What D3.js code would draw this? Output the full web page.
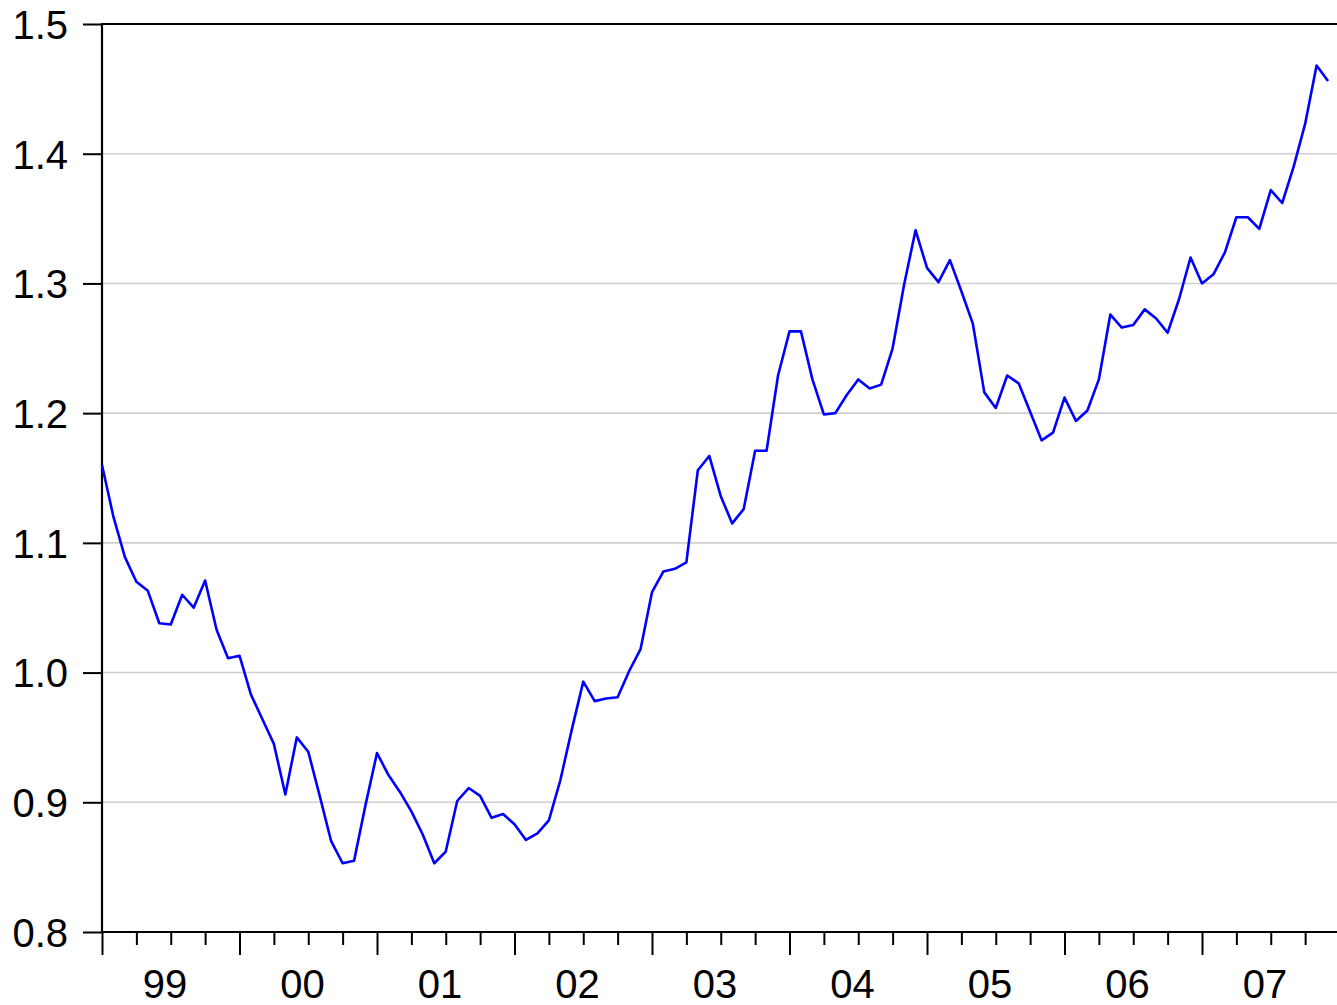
<!DOCTYPE html>
<html lang="en">
	<head>
		<meta charset="utf-8">
		<title>D3: monthly exchange rate line chart</title>
		<script type="text/javascript" src="https://cdn.jsdelivr.net/npm/d3@7/dist/d3.min.js"></script>
		<style type="text/css">
			body {
				margin: 0;
				background: #fff;
			}
			text {
				font-family: "Liberation Sans", Arial, sans-serif;
				fill: #000;
			}
		</style>
	</head>
	<body>
		<script type="text/javascript">

			//Width and height
			var w = 1337;
			var h = 1005;

			//Data: one value per month, Jan 1999 .. Dec 2007
			var years = ["99", "00", "01", "02", "03", "04", "05", "06", "07"];
			var v1999 = [1.160, 1.120, 1.089, 1.070, 1.063, 1.038, 1.037, 1.060, 1.050, 1.071, 1.033, 1.011];
			var v2000 = [1.013, 0.983, 0.964, 0.945, 0.906, 0.950, 0.939, 0.905, 0.870, 0.853, 0.855, 0.898];
			var v2001 = [0.938, 0.921, 0.908, 0.893, 0.875, 0.853, 0.862, 0.901, 0.911, 0.905, 0.888, 0.891];
			var v2002 = [0.883, 0.871, 0.876, 0.886, 0.917, 0.956, 0.993, 0.978, 0.980, 0.981, 1.001, 1.018];
			var v2003 = [1.062, 1.078, 1.080, 1.085, 1.156, 1.167, 1.136, 1.115, 1.126, 1.171, 1.171, 1.229];
			var v2004 = [1.263, 1.263, 1.226, 1.199, 1.200, 1.214, 1.226, 1.219, 1.222, 1.250, 1.299, 1.341];
			var v2005 = [1.312, 1.301, 1.318, 1.294, 1.269, 1.216, 1.204, 1.229, 1.223, 1.201, 1.179, 1.185];
			var v2006 = [1.212, 1.194, 1.202, 1.226, 1.276, 1.266, 1.268, 1.280, 1.273, 1.262, 1.288, 1.320];
			var v2007 = [1.300, 1.307, 1.324, 1.351, 1.351, 1.342, 1.372, 1.362, 1.390, 1.423, 1.468, 1.456];
			var yTicks = [0.8, 0.9, 1.0, 1.1, 1.2, 1.3, 1.4, 1.5];

			var dataset = [].concat(v1999, v2000, v2001, v2002, v2003, v2004, v2005, v2006, v2007);

			//plot area (don't call it "top", that's window.top)
			var plotLeft = 102;
			var plotTop = 24;
			var plotRight = 1339.5;
			var plotBottom = 932;

			var xScale = d3.scaleLinear()
						.domain([0, years.length * 12])
						.range([plotLeft, plotRight]);

			var yScale = d3.scaleLinear()
						.domain([0.8, 1.5])
						.range([plotBottom, plotTop]);

			var svg = d3.select("body")
						.append("svg")
						.attr("width", w)
						.attr("height", h);

			//horizontal gridlines (not at 0.8 and 1.5)
			svg.append("g")
				.selectAll("line")
				.data(yTicks.slice(1, -1))
				.enter()
				.append("line")
				.attr("x1", plotLeft)
				.attr("x2", plotRight)
				.attr("y1", function(d){ return yScale(d); })
				.attr("y2", function(d){ return yScale(d); })
				.attr("stroke", "#cfcfcf")
				.attr("stroke-width", 1.6);

			//y axis
			var yAxis = d3.axisLeft(yScale)
						.tickValues(yTicks)
						.tickFormat(d3.format(".1f"))
						.tickSize(19)
						.tickPadding(15);

			var gy = svg.append("g")
						.attr("transform", "translate(" + plotLeft + ",0)")
						.call(yAxis);
			gy.select(".domain").remove();
			gy.selectAll(".tick line")
				.attr("stroke", "#000")
				.attr("stroke-width", 2);
			gy.selectAll(".tick text")
				.style("font-size", "40px")
				.attr("dy", "0.36em");

			//x axis: major ticks at each January, minor at quarters
			var months = d3.range(0, years.length * 12 + 1);
			var xAxis = d3.axisBottom(xScale)
						.tickValues(months.filter(function(d){ return d % 3 == 0; }))
						.tickFormat("")
						.tickSizeOuter(0)
						.tickSize(13);

			var gx = svg.append("g")
						.attr("transform", "translate(0," + plotBottom + ")")
						.call(xAxis);
			gx.select(".domain").remove();
			gx.selectAll(".tick line")
				.attr("stroke", "#000")
				.attr("stroke-width", 2)
				.attr("y2", function(d){ return d % 12 == 0 ? 23 : 13; });

			//year labels, centred between first and last month of the year
			svg.append("g")
				.selectAll("text")
				.data(years)
				.enter()
				.append("text")
				.attr("text-anchor", "middle")
				.attr("x", function(d, i){ return xScale(i * 12 + 5.5); })
				.attr("y", 998)
				.style("font-size", "40px")
				.text(function(d){ return d; });

			//frame: left, top, bottom
			svg.append("path")
				.attr("d", "M" + plotRight + "," + plotTop + "H" + plotLeft + "V" + plotBottom + "H" + plotRight)
				.attr("fill", "none")
				.attr("stroke", "#000")
				.attr("stroke-width", 2.2);

			//the series
			var line = d3.line()
						.x(function(d, i){ return xScale(i); })
						.y(function(d){ return yScale(d); });

			svg.append("path")
				.datum(dataset)
				.attr("d", line)
				.attr("fill", "none")
				.attr("stroke", "#0000ff")
				.attr("stroke-width", 2.6)
				.attr("stroke-linejoin", "round");

		</script>
	</body>
</html>
